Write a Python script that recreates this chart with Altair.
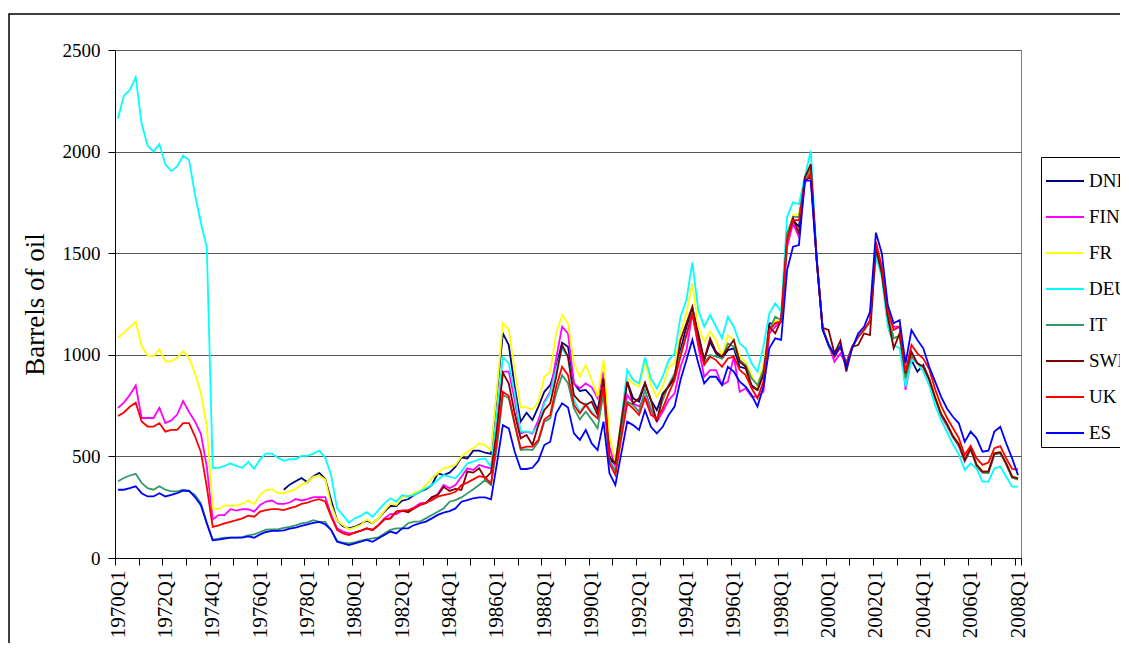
import altair as alt
import pandas as pd

COUNTRIES = ["DNK", "FIN", "FR", "DEU", "IT", "SWE", "UK", "ES"]
COLORS = ["#000080", "#FF00FF", "#FFFF00", "#00FFFF", "#339966", "#800000", "#FF0000", "#0000FF"]
FIRST_YEAR = 1970  # quarterly series, 1970Q1 .. 2008Q1 (153 quarters)

DNK = [None] * 28 + [
    336, 361, 378, 394, 373, 403, 419, 389,
    285, 184, 157, 146, 154, 167, 184, 171, 195, 228, 256, 256, 282, 289, 310, 326, 338, 359, 417, 408,
    420, 449, 495, 490, 528, 528, 518, 512,
    810, 1105, 1048, 843, 671, 715, 679, 745, 818, 851, 941, 1060,
    1040,
    859, 822, 827, 794, 728, 884, 490, 458, 670, 868, 786, 769, 859, 777, 728, 810, 843, 884, 1023, 1138,
    1228, 1105, 974, 1064, 1007, 982, 1023, 1032, 941, 933, 851, 827, 909, 1155, 1155, 1171, 1548, 1663, 1630,
    1860, 1876, 1466, 1130, 1048, 991, 1040, 958, 1040, 1089, 1122, 1163, 1515, 1400, 1187, 1081, 1089, 900,
    974, 917, 950, 880, 790, 710, 660, 600, 560, 482, 540, 458, 425, 425, 515, 520, 466, 400, 392]

FIN = [
    739, 765, 802, 849, 689, 689, 689, 739, 664, 677, 706, 772, 719, 672, 611, 450, 190, 211, 211, 240,
    233, 240, 240, 228, 261, 278, 283, 266, 266, 273, 290, 283, 290, 300, 300, 300,
    212, 146, 130, 121, 125, 134, 146, 138, 162, 195, 216, 216, 233, 233, 249, 269, 272, 294, 315, 359,
    343, 359, 400, 441, 433, 458, 449, 441,
    679, 917, 917, 777, 613, 622, 613, 679, 769, 818, 982, 1138,
    1105,
    859, 835, 859, 840, 786, 917, 548, 449, 625, 802, 761, 745, 794, 728, 671, 720, 777, 810, 941, 1023,
    1204, 1040, 892, 925, 925, 851, 868, 991, 818, 835, 794, 794, 818, 1105, 1138, 1163, 1532, 1647, 1581,
    1843, 1901, 1466, 1130, 1048, 966, 1007, 950, 1040, 1089, 1122, 1163, 1515, 1400, 1200, 1138, 1138, 827,
    990, 958, 941, 880, 790, 700, 650, 595, 550, 475, 535, 455, 420, 420, 510, 520, 462, 398, 390]

FR = [
    1085, 1108, 1135, 1163, 1043, 997, 993, 1027, 968, 968, 985, 1018, 985, 910, 810, 650, 245, 241, 258, 258,
    258, 266, 283, 266, 311, 333, 339, 319, 319, 328, 339, 361, 373, 399, 406, 386,
    261, 184, 162, 141, 151, 162, 190, 171, 195, 233, 266, 261, 298, 302, 321, 331, 359, 392, 417, 441,
    449, 458, 499, 523, 540, 564, 556, 531,
    827, 1155, 1122, 925, 741, 741, 731, 769, 892, 917, 1105, 1196,
    1155,
    958, 892, 950, 876, 794, 974, 597, 474, 680, 884, 859, 843, 966, 851, 794, 843, 941, 958, 1105, 1204,
    1351, 1138, 1064, 1114, 1073, 991, 1097, 1073, 991, 966, 900, 843, 958, 1122, 1171, 1163, 1565, 1688, 1693,
    1860, 1917, 1466, 1130, 1048, 991, 1040, 958, 1040, 1089, 1122, 1163, 1520, 1405, 1187, 1081, 1089, 892,
    999, 958, 933, 880, 795, 715, 660, 600, 565, 485, 540, 460, 428, 425, 515, 522, 468, 402, 394]

DEU = [
    2163, 2275, 2303, 2366, 2137, 2030, 2000, 2037, 1937, 1904, 1927, 1980, 1959, 1790, 1650, 1530, 444, 444, 453, 466,
    453, 444, 473, 439, 486, 514, 514, 494, 478, 486, 486, 503, 503, 514, 528, 494,
    408, 244, 211, 174, 195, 207, 226, 203, 236, 269, 294, 277, 310, 302, 310, 326, 343, 359, 384, 408,
    400, 392, 425, 466, 474, 485, 490, 449,
    712, 987, 958, 810, 622, 622, 617, 654, 761, 810, 930, 1030,
    990,
    777, 720, 761, 720, 687, 827, 474, 433, 680, 925, 876, 859, 987, 884, 835, 892, 974, 1007, 1187, 1269,
    1455, 1220, 1138, 1196, 1138, 1081, 1187, 1138, 1056, 1032, 958, 917, 1040, 1204, 1253, 1212, 1679, 1750, 1742,
    1876, 2004, 1480, 1130, 1056, 1007, 1040, 958, 1040, 1089, 1122, 1163, 1483, 1380, 1138, 1048, 1032, 843,
    974, 958, 917, 850, 750, 680, 620, 560, 510, 433, 466, 440, 376, 376, 441, 450, 400, 351, 351]

IT = [
    378, 394, 406, 414, 369, 344, 336, 353, 336, 328, 328, 336, 328, 310, 270, 175, 90, 95, 100, 100,
    100, 103, 111, 116, 128, 140, 141, 141, 148, 153, 161, 170, 175, 186, 178, 178,
    138, 85, 75, 72, 77, 85, 92, 97, 102, 121, 138, 146, 146, 171, 179, 179, 195, 212, 228, 244,
    277, 285, 298, 318, 338, 359, 384, 359,
    548, 802, 786, 654, 531, 535, 531, 572, 671, 687, 810, 900,
    860,
    736, 682, 720, 682, 638, 810, 482, 425, 620, 769, 753, 720, 827, 736, 679, 777, 851, 909, 1007, 1097,
    1212, 1073, 958, 999, 991, 982, 1056, 1040, 974, 950, 884, 851, 925, 1122, 1187, 1171, 1597, 1679, 1679,
    1868, 1917, 1466, 1130, 1048, 991, 1040, 958, 1040, 1089, 1122, 1163, 1515, 1400, 1187, 1081, 1095, 885,
    999, 958, 941, 875, 785, 705, 655, 595, 555, 478, 535, 452, 420, 418, 510, 515, 462, 395, 386]

SWE = [None] * 40 + [
    125, 134, 146, 138, 162, 190, 195, 228, 233, 225, 244, 261, 270, 300, 310, 350,
    330, 340, 335, 425, 420, 441, 392, 420,
    630, 912, 859, 712, 589, 605, 556, 654, 728, 761, 892, 1048,
    990,
    802, 769, 753, 769, 704, 884, 499, 466, 670, 868, 761, 786, 863, 777, 671, 802, 846, 892, 1073, 1155,
    1237, 1089, 974, 1081, 1015, 991, 1032, 1073, 966, 941, 843, 827, 900, 1138, 1105, 1171, 1565, 1671, 1597,
    1873, 1938, 1466, 1133, 1122, 1007, 1069, 917, 1040, 1048, 1105, 1097, 1530, 1400, 1187, 1032, 1105, 909,
    1015, 958, 941, 880, 790, 710, 660, 600, 560, 482, 540, 458, 425, 425, 515, 520, 466, 400, 392]

UK = [
    699, 716, 744, 764, 672, 647, 647, 664, 622, 631, 631, 664, 664, 599, 522, 350, 153, 161, 170, 178,
    186, 195, 208, 203, 228, 236, 241, 241, 236, 245, 253, 266, 273, 283, 290, 278,
    203, 138, 121, 113, 125, 134, 146, 138, 162, 190, 195, 228, 233, 236, 244, 261, 272, 285, 302, 310,
    315, 326, 359, 371, 387, 403, 397, 367,
    581, 818, 797, 663, 540, 548, 548, 581, 682, 704, 843, 941,
    900,
    753, 712, 753, 712, 687, 843, 466, 408, 590, 761, 736, 704, 786, 704, 687, 736, 810, 876, 991, 1097,
    1204, 1056, 950, 991, 974, 941, 982, 991, 925, 900, 835, 786, 868, 1122, 1155, 1163, 1565, 1663, 1663,
    1850, 1895, 1470, 1130, 1048, 991, 1040, 958, 1040, 1089, 1122, 1170, 1556, 1433, 1220, 1122, 1138, 917,
    1048, 1007, 982, 930, 830, 750, 690, 640, 590, 507, 552, 490, 458, 470, 540, 551, 490, 438, 436]

ES = [
    336, 336, 344, 353, 319, 303, 303, 319, 303, 311, 319, 331, 331, 300, 260, 170, 87, 90, 95, 100,
    100, 100, 106, 100, 116, 128, 133, 133, 136, 145, 150, 158, 166, 173, 178, 166,
    138, 80, 72, 64, 72, 80, 89, 80, 97, 113, 130, 121, 146, 146, 162, 171, 179, 195, 212, 223,
    231, 244, 277, 285, 294, 298, 298, 289,
    466, 654, 638, 523, 438, 438, 444, 479, 556, 572, 712, 761,
    740,
    613, 581, 630, 564, 531, 671, 417, 359, 515, 671, 654, 630, 728, 646, 613, 646, 704, 745, 876, 974,
    1073, 958, 859, 892, 892, 851, 941, 917, 868, 843, 802, 745, 843, 1032, 1081, 1073, 1417, 1532, 1540,
    1860, 1856, 1466, 1122, 1048, 999, 1043, 941, 1032, 1105, 1138, 1212, 1601, 1499, 1245, 1155, 1171, 958,
    1122, 1073, 1032, 941, 868, 794, 736, 695, 663, 572, 622, 589, 523, 528, 622, 646, 564, 490, 408]

Y_TICKS = [0, 500, 1000, 1500, 2000, 2500]

SERIES = dict(zip(COUNTRIES, [DNK, FIN, FR, DEU, IT, SWE, UK, ES]))
N_Q = 153

rows = []
for c, vals in SERIES.items():
    for i, v in enumerate(vals[:N_Q]):
        if v is not None:
            rows.append({"country": c, "q": i, "value": v})
df = pd.DataFrame(rows)

FONT = "Liberation Serif"

tick_vals = [-0.5 + 4 * m for m in range(39)] + [N_Q - 0.5]

x_enc = alt.X(
    "q:Q",
    scale=alt.Scale(domain=[-0.5, N_Q - 0.5], nice=False, zero=False),
    axis=alt.Axis(
        values=tick_vals,
        labelExpr=f"(datum.value + 0.5) % 8 == 0 ? ({FIRST_YEAR} + (datum.value + 0.5) / 4) + 'Q1' : ''",
        labelAngle=270,
        labelFont=FONT,
        labelFontSize=21,
        labelColor="black",
        labelPadding=5,
        labelOffset=3,
        labelFlush=False,
        labelOverlap=False,
        tickSize=7,
        tickColor="black",
        domainColor="black",
        grid=False,
        title=None,
    ),
)

y_enc = alt.Y(
    "value:Q",
    scale=alt.Scale(domain=[0, 2500], nice=False),
    axis=alt.Axis(
        values=Y_TICKS,
        format="d",
        labelFont=FONT,
        labelFontSize=19,
        labelColor="black",
        labelPadding=8,
        tickSize=7,
        tickColor="black",
        domainColor="black",
        grid=True,
        gridColor="#555555",
        title="Barrels of oil",
        titleFont=FONT,
        titleFontSize=27,
        titleFontWeight="normal",
        titleColor="black",
        titleAngle=270,
        titleAlign="center",
        titleBaseline="middle",
        titleX=-80,
        titleY=254,
    ),
)

color_enc = alt.Color(
    "country:N",
    scale=alt.Scale(domain=COUNTRIES, range=COLORS),
    legend=alt.Legend(
        title=None,
        orient="none",
        legendX=926,
        legendY=107,
        symbolType="stroke",
        symbolSize=1444,
        symbolStrokeWidth=2,
        labelFont=FONT,
        labelFontSize=19,
        labelColor="black",
        labelOffset=4,
        labelLimit=200,
        rowPadding=6,
        padding=4,
        strokeColor="black",
        fillColor="white",
        cornerRadius=0,
    ),
)

layers = []
for c in COUNTRIES:
    layers.append(
        alt.Chart(df)
        .transform_filter(alt.datum.country == c)
        .mark_line(strokeWidth=1.8)
        .encode(x=x_enc, y=y_enc, color=color_enc)
    )

frame = alt.Chart(pd.DataFrame({"k": [0]})).mark_rect(
    fillOpacity=0, stroke="black", strokeWidth=1.5
).encode(
    x=alt.value(-106), x2=alt.value(1200), y=alt.value(-36), y2=alt.value(720)
)

chart = (
    alt.layer(frame, *layers)
    .properties(
        width=906,
        height=508,
        autosize=alt.AutoSizeParams(type="none"),
        padding={"left": 107, "top": 42, "right": 99, "bottom": 85},
        background="white",
    )
    .configure_view(stroke="#808080", strokeWidth=1)
)

chart.save("out.html", embed_options={"renderer": "svg", "actions": False})
